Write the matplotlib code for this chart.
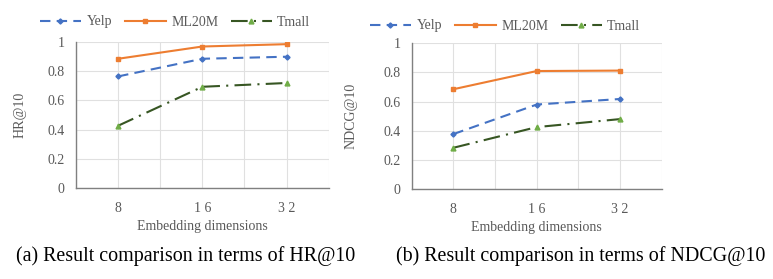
import numpy as np
import matplotlib
matplotlib.use('Agg')
import matplotlib.pyplot as plt

plt.rcParams['font.family'] = ['Liberation Serif', 'DejaVu Serif']

# data
dims = ['8', '1 6', '3 2']
hr_yelp = [0.765, 0.886, 0.90]
hr_ml20m = [0.886, 0.97, 0.986]
hr_tmall = [0.427, 0.694, 0.72]
ndcg_yelp = [0.377, 0.58, 0.618]
ndcg_ml20m = [0.685, 0.81, 0.813]
ndcg_tmall = [0.283, 0.425, 0.48]

gray = '#595959'
fig = plt.figure(figsize=(7.73, 2.79), dpi=100)
ax1 = fig.add_axes([0.0983, 0.326, 0.327, 0.523])
ax2 = fig.add_axes([0.5326, 0.3226, 0.3235, 0.522])


def draw(ax, yelp, ml, tmall, ylabel, caption, ylab_x, leg_xy, cap_x):
    x = np.arange(len(dims))
    l1, = ax.plot(x, yelp, color='#4472C4', linestyle=(0, (5, 3)), lw=1.5,
                  marker='D', ms=2.6, label='Yelp')
    l2, = ax.plot(x, ml, color='#ED7D31', linestyle='-', lw=1.5,
                  marker='s', ms=3.5, label='ML20M')
    l3, = ax.plot(x, tmall, color='#375623', linestyle=(0, (8, 3, 1, 3)), lw=1.5,
                  marker='^', ms=3.5, markerfacecolor='#70AD47',
                  markeredgecolor='#70AD47', label='Tmall')
    ax.set_xlim(-0.5, 2.5)
    ax.set_ylim(0, 1)
    ax.set_yticks([0, 0.2, 0.4, 0.6, 0.8, 1.0])
    ax.set_yticklabels(['0', '0.2', '0.4', '0.6', '0.8', '1'])
    ax.set_xticks(x)
    ax.set_xticklabels(dims)
    ax.set_xticks([-0.5, 0.5, 1.5, 2.5], minor=True)
    ax.grid(True, which='both', axis='x', color='#e0e0e0', lw=0.8)
    ax.grid(True, which='major', axis='y', color='#e0e0e0', lw=0.8)
    ax.set_axisbelow(True)
    for s in ['top', 'right']:
        ax.spines[s].set_visible(False)
    for s in ['left', 'bottom']:
        ax.spines[s].set_color('#808080')
        ax.spines[s].set_linewidth(1.0)
    ax.tick_params(which='both', length=0, labelsize=10, colors=gray)
    ax.tick_params(axis='y', pad=8)
    ax.tick_params(axis='x', pad=10)
    ax.set_xlabel('Embedding dimensions', fontsize=10, color=gray, labelpad=4)
    ax.set_ylabel(ylabel, fontsize=10, color=gray)
    ax.yaxis.set_label_coords(ylab_x, 0.5)
    fig.legend(handles=[l1, l2, l3], loc='center left', bbox_to_anchor=leg_xy,
               ncol=3, frameon=False, fontsize=10, handlelength=2.95,
               columnspacing=0.9, handletextpad=0.4, borderaxespad=0,
               borderpad=0, labelcolor=gray)
    fig.text(cap_x, 1 - 256 / 279, caption, ha='center', va='center',
             fontsize=14.4, color='black')


draw(ax1, hr_yelp, hr_ml20m, hr_tmall, 'HR@10',
     '(a) Result comparison in terms of HR@10', -0.194, (40 / 773, 1 - 22 / 279),
     186 / 773)
draw(ax2, ndcg_yelp, ndcg_ml20m, ndcg_tmall, 'NDCG@10',
     '(b) Result comparison in terms of NDCG@10', -0.215, (370 / 773, 1 - 26 / 279),
     581 / 773)

plt.savefig('out.png', dpi=100)
